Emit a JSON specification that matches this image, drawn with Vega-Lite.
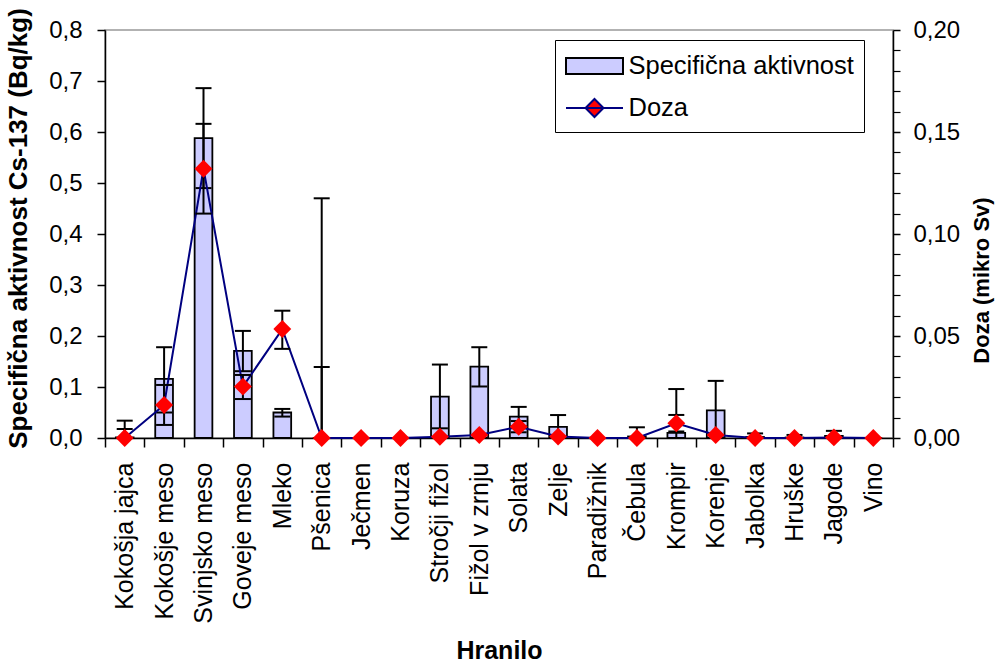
{
  "$schema": "https://vega.github.io/schema/vega-lite/v6.json",
  "autosize": {"type": "none"},
  "width": 788,
  "height": 408,
  "padding": {"left": 105, "top": 30, "right": 109, "bottom": 226},
  "background": "white",
  "config": {
    "view": {"stroke": "#999999", "strokeWidth": 1.5},
    "font": "Liberation Sans",
    "axis": {"grid": false, "domainColor": "black", "tickColor": "black", "labelColor": "black", "titleColor": "black", "labelFont": "Liberation Sans", "titleFont": "Liberation Sans", "domainWidth": 1.5, "tickWidth": 1.5}
  },
  "data": {"values": [
    {"food": "Kokošja jajca", "a": 0.001, "a_lo": 0, "a_hi": 0.034, "d": 0, "d_lo": 0, "d_hi": 0.0044},
    {"food": "Kokošje meso", "a": 0.116, "a_lo": 0.05, "a_hi": 0.178, "d": 0.0162, "d_lo": 0.0064, "d_hi": 0.026},
    {"food": "Svinjsko meso", "a": 0.588, "a_lo": 0.49, "a_hi": 0.686, "d": 0.132, "d_lo": 0.11, "d_hi": 0.154},
    {"food": "Goveje meso", "a": 0.171, "a_lo": 0.131, "a_hi": 0.21, "d": 0.0252, "d_lo": 0.0191, "d_hi": 0.0309},
    {"food": "Mleko", "a": 0.05, "a_lo": 0.042, "a_hi": 0.057, "d": 0.0534, "d_lo": 0.0437, "d_hi": 0.0624},
    {"food": "Pšenica", "a": 0, "a_lo": 0, "a_hi": 0.47, "d": 0, "d_lo": 0, "d_hi": 0.0348},
    {"food": "Ječmen", "a": 0, "a_lo": 0, "a_hi": null, "d": 0, "d_lo": 0, "d_hi": null},
    {"food": "Koruza", "a": 0, "a_lo": 0, "a_hi": null, "d": 0, "d_lo": 0, "d_hi": null},
    {"food": "Stročji fižol", "a": 0.081, "a_lo": 0.019, "a_hi": 0.144, "d": 0.0006, "d_lo": 0, "d_hi": null},
    {"food": "Fižol v zrnju", "a": 0.14, "a_lo": 0.101, "a_hi": 0.178, "d": 0.0015, "d_lo": 0, "d_hi": null},
    {"food": "Solata", "a": 0.042, "a_lo": 0.023, "a_hi": 0.061, "d": 0.0055, "d_lo": 0.0028, "d_hi": 0.0083},
    {"food": "Zelje", "a": 0.022, "a_lo": 0, "a_hi": 0.045, "d": 0.0007, "d_lo": 0, "d_hi": null},
    {"food": "Paradižnik", "a": 0, "a_lo": 0, "a_hi": null, "d": 0, "d_lo": 0, "d_hi": null},
    {"food": "Čebula", "a": 0.003, "a_lo": 0, "a_hi": 0.021, "d": 0, "d_lo": 0, "d_hi": null},
    {"food": "Krompir", "a": 0.01, "a_lo": 0, "a_hi": 0.096, "d": 0.0072, "d_lo": 0.0032, "d_hi": 0.0113},
    {"food": "Korenje", "a": 0.054, "a_lo": 0, "a_hi": 0.112, "d": 0.0015, "d_lo": 0, "d_hi": null},
    {"food": "Jabolka", "a": 0.002, "a_lo": 0, "a_hi": 0.009, "d": 0, "d_lo": 0, "d_hi": null},
    {"food": "Hruške", "a": 0.001, "a_lo": 0, "a_hi": 0.006, "d": 0, "d_lo": 0, "d_hi": null},
    {"food": "Jagode", "a": 0.004, "a_lo": 0, "a_hi": 0.014, "d": 0.0003, "d_lo": 0, "d_hi": null},
    {"food": "Vino", "a": 0, "a_lo": 0, "a_hi": null, "d": 0, "d_lo": 0, "d_hi": null}
  ]},
  "encoding": {
    "x": {
      "field": "food", "type": "nominal", "sort": null,
      "scale": {"paddingInner": 0, "paddingOuter": 0},
      "axis": {
        "title": "Hranilo", "titleFontSize": 25, "titleFontWeight": "bold",
        "titleY": 212, "titleBaseline": "middle",
        "labelAngle": -90, "labelFontSize": 25, "labelPadding": 15,
        "tickBand": "extent", "tickSize": 9,
        "encode": {"ticks": {"update": {"y": {"value": -6}}}}
      }
    }
  },
  "layer": [
    {
      "layer": [
        {
          "mark": {"type": "bar", "width": {"band": 0.45}, "opacity": 1},
          "encoding": {
            "y": {"field": "a", "type": "quantitative",
              "scale": {"domain": [0, 0.8], "nice": false},
              "axis": {"orient": "left", "title": "Specifična aktivnost Cs-137 (Bq/kg)", "titleFontSize": 26, "titleFontWeight": "bold",
                "titleX": -87, "titleY": 198, "titleBaseline": "middle", "titleAngle": -90,
                "values": [0, 0.1, 0.2, 0.3, 0.4, 0.5, 0.6, 0.7, 0.8],
                "labelExpr": "replace(format(datum.value, '.1f'), '.', ',')",
                "labelFontSize": 24, "labelPadding": 15, "tickSize": 8}},
            "color": {"datum": "Specifična aktivnost", "type": "nominal",
              "scale": {"domain": ["Specifična aktivnost", "Doza"], "range": ["#CCCCFF", "#FF0000"]},
              "legend": {
                "orient": "none", "legendX": 450, "legendY": 10, "title": null,
                "labelFontSize": 25.5, "labelFont": "Liberation Sans", "labelColor": "black", "labelOffset": 18, "labelLimit": 500,
                "padding": 10, "rowPadding": 12, "strokeColor": "black", "fillColor": "white",
                "symbolSize": 900, "symbolOffset": 13.5, "symbolStrokeWidth": 2, "symbolOpacity": 1,
                "symbolType": {"expr": "datum.value === 'Doza' ? 'M-1.9,0L1.9,0M0,-0.6L0.6,0L0,0.6L-0.6,0Z' : 'M-1.9,-0.53L1.9,-0.53L1.9,0.53L-1.9,0.53Z'"},
                "symbolStrokeColor": {"expr": "datum.value === 'Doza' ? '#000080' : 'black'"}
              }}
          }
        },
        {
          "mark": {"type": "bar", "width": {"band": 0.45}, "fill": null, "fillOpacity": 0, "stroke": "black", "strokeWidth": 1.8},
          "encoding": {
            "y": {"field": "a", "type": "quantitative", "title": "Specifična aktivnost Cs-137 (Bq/kg)"}
          }
        },
        {
          "transform": [{"filter": "datum.a_hi > 0"}],
          "mark": {"type": "rule", "color": "black", "strokeWidth": 2},
          "encoding": {
            "y": {"field": "a_lo", "type": "quantitative", "title": "Specifična aktivnost Cs-137 (Bq/kg)"},
            "y2": {"field": "a_hi"}
          }
        },
        {
          "transform": [{"filter": "datum.a_hi > 0"}],
          "mark": {"type": "tick", "color": "black", "size": 16, "thickness": 2, "opacity": 1},
          "encoding": {"y": {"field": "a_hi", "type": "quantitative", "title": "Specifična aktivnost Cs-137 (Bq/kg)"}}
        },
        {
          "transform": [{"filter": "datum.a_lo > 0"}],
          "mark": {"type": "tick", "color": "black", "size": 16, "thickness": 2, "opacity": 1},
          "encoding": {"y": {"field": "a_lo", "type": "quantitative", "title": "Specifična aktivnost Cs-137 (Bq/kg)"}}
        }
      ]
    },
    {
      "layer": [
        {
          "mark": {"type": "line", "color": "#000080", "strokeWidth": 2},
          "encoding": {
            "y": {"field": "d", "type": "quantitative",
              "scale": {"domain": [0, 0.2], "nice": false},
              "axis": {"orient": "right", "title": "Doza (mikro Sv)", "titleFontSize": 22, "titleFontWeight": "bold",
                "titleX": 88, "titleY": 250, "titleBaseline": "middle", "titleAngle": -90,
                "values": [0, 0.05, 0.1, 0.15, 0.2],
                "labelExpr": "replace(format(datum.value, '.2f'), '.', ',')",
                "labelFontSize": 24, "labelPadding": 13, "tickSize": 7,
                "encode": {
                  "ticks": {"update": {"x": {"value": -7}, "strokeWidth": {"value": 2}}}
                }}}
          }
        },
        {
          "transform": [{"filter": "datum.d_hi > 0"}],
          "mark": {"type": "rule", "color": "black", "strokeWidth": 2},
          "encoding": {
            "y": {"field": "d_lo", "type": "quantitative", "title": "Doza (mikro Sv)"},
            "y2": {"field": "d_hi"}
          }
        },
        {
          "transform": [{"filter": "datum.d_hi > 0"}],
          "mark": {"type": "tick", "color": "black", "size": 16, "thickness": 2, "opacity": 1},
          "encoding": {"y": {"field": "d_hi", "type": "quantitative", "title": "Doza (mikro Sv)"}}
        },
        {
          "transform": [{"filter": "datum.d_lo > 0"}],
          "mark": {"type": "tick", "color": "black", "size": 16, "thickness": 2, "opacity": 1},
          "encoding": {"y": {"field": "d_lo", "type": "quantitative", "title": "Doza (mikro Sv)"}}
        },
        {
          "mark": {"type": "point", "shape": "diamond", "filled": true, "size": 320, "opacity": 1, "strokeWidth": 0},
          "encoding": {
            "y": {"field": "d", "type": "quantitative", "title": "Doza (mikro Sv)"},
            "color": {"datum": "Doza", "type": "nominal"}
          }
        }
      ]
    },
    {
      "mark": {"type": "line", "opacity": 0, "strokeOpacity": 0},
      "encoding": {
        "y": {"field": "d", "type": "quantitative",
          "scale": {"domain": [0, 0.2], "nice": false},
          "axis": {"orient": "right", "title": null, "labels": false, "domain": false, "offset": 0,
            "values": [0.01, 0.02, 0.03, 0.04, 0.06, 0.07, 0.08, 0.09, 0.11, 0.12, 0.13, 0.14, 0.16, 0.17, 0.18, 0.19],
            "tickSize": 7, "tickWidth": 1.2,
            "encode": {"ticks": {"update": {"x": {"value": -7}}}}}}
      }
    }
  ],
  "resolve": {"scale": {"y": "independent"}}
}
